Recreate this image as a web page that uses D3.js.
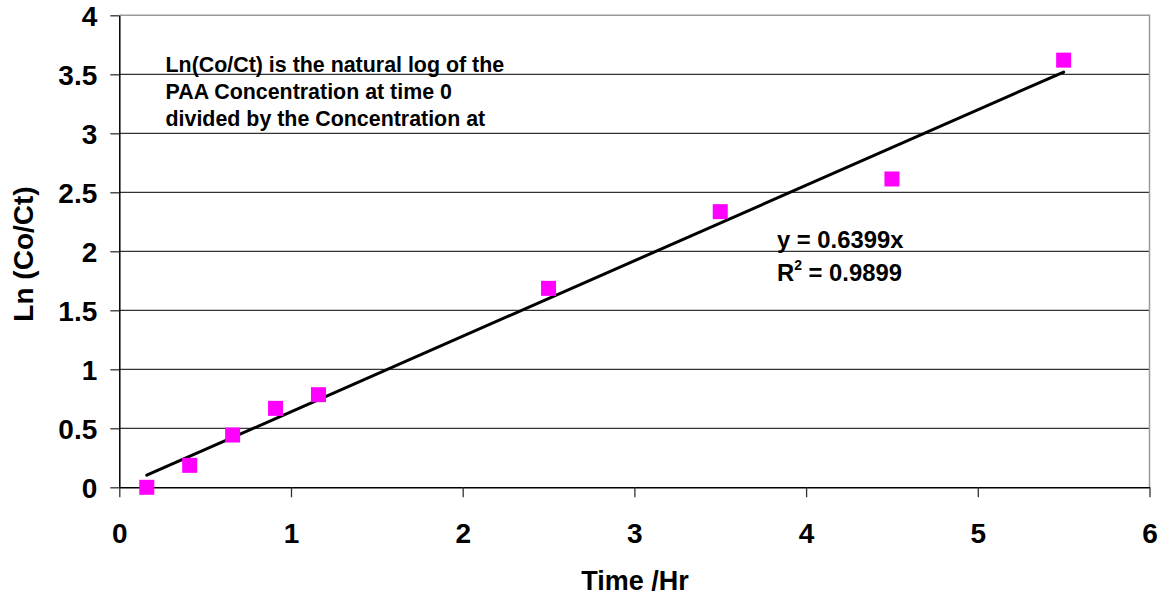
<!DOCTYPE html>
<html>
<head>
<meta charset="utf-8">
<script src="https://cdn.jsdelivr.net/npm/d3@7"></script>
<style>
  body { margin: 0; background: #fff; }
  svg text { font-family: "Liberation Sans", Arial, sans-serif; font-weight: bold; fill: #000; }
</style>
</head>
<body>
<div id="chart"></div>
<script>
// datos
const times = [0.16, 0.41, 0.66, 0.91, 1.16, 2.5, 3.5, 4.5, 5.5];
const lnRatio = [0, 0.186, 0.443, 0.669, 0.785, 1.686, 2.336, 2.613, 3.62];
const slope = 0.6399;
const rSquared = 0.9899;
const xTicks = [0, 1, 2, 3, 4, 5, 6];
const yTicks = [0, 0.5, 1, 1.5, 2, 2.5, 3, 3.5, 4];
const noteLines = [
  "Ln(Co/Ct) is the natural log of the",
  "PAA Concentration at time 0",
  "divided by the Concentration at"
];

const puntos = times.map((t, i) => ({ t: t, v: lnRatio[i] }));

const ancho = 1161, alto = 596;
const margen = { top: 15.3, right: 11.5, bottom: 108.7, left: 119.3 };

const svg = d3.select("#chart").append("svg")
  .attr("width", ancho)
  .attr("height", alto);

const x = d3.scaleLinear().domain([0, 6]).range([margen.left, ancho - margen.right]);
const y = d3.scaleLinear().domain([0, 4]).range([alto - margen.bottom, margen.top]);

// lineas de rejilla
svg.append("g").selectAll("line")
  .data(yTicks.filter(d => d > 0 && d < 4))
  .enter().append("line")
  .attr("x1", x(0)).attr("x2", x(6))
  .attr("y1", d => y(d)).attr("y2", d => y(d))
  .attr("stroke", "#000").attr("stroke-width", 1);

// borde superior y derecho en gris
svg.append("path")
  .attr("d", `M${x(0)},${y(4)}H${x(6)}V${y(0)}`)
  .attr("fill", "none")
  .attr("stroke", "#9a9a9a")
  .attr("stroke-width", 1.5);

// ejes
const ejeX = svg.append("g")
  .attr("transform", `translate(0,${y(0)})`)
  .call(d3.axisBottom(x).tickValues(xTicks).tickSize(10).tickSizeOuter(0).tickFormat(d => d));
ejeX.select(".domain").attr("stroke", "#000").attr("stroke-width", 1.5);
ejeX.selectAll(".tick line").attr("stroke", "#333").attr("stroke-width", 1.3);
ejeX.selectAll(".tick text")
  .attr("y", 56).attr("dy", null)
  .attr("font-size", 28).attr("font-family", null);

const ejeY = svg.append("g")
  .attr("transform", `translate(${x(0)},0)`)
  .call(d3.axisLeft(y).tickValues(yTicks).tickSize(9).tickSizeOuter(0).tickFormat(d => d));
ejeY.select(".domain").attr("stroke", "#000").attr("stroke-width", 1.5);
ejeY.selectAll(".tick line").attr("stroke", "#333").attr("stroke-width", 1.3);
ejeY.selectAll(".tick text")
  .attr("x", -22).attr("dy", "0.36em")
  .attr("font-size", 28).attr("font-family", null);

// linea de tendencia
const tMin = d3.min(times), tMax = d3.max(times);
svg.append("line")
  .attr("x1", x(tMin)).attr("y1", y(slope * tMin))
  .attr("x2", x(tMax)).attr("y2", y(slope * tMax))
  .attr("stroke", "#000")
  .attr("stroke-width", 3)
  .attr("stroke-linecap", "round");

// puntos
const lado = 15;
svg.selectAll("rect.punto")
  .data(puntos)
  .enter().append("rect")
  .attr("class", "punto")
  .attr("x", d => x(d.t) - lado / 2)
  .attr("y", d => y(d.v) - lado / 2)
  .attr("width", lado)
  .attr("height", lado)
  .attr("fill", "#ff00ff");

// nota
svg.append("g").selectAll("text")
  .data(noteLines)
  .enter().append("text")
  .attr("x", 165.5)
  .attr("y", (d, i) => 72 + i * 27.2)
  .attr("font-size", 21.4)
  .text(d => d);

// ecuacion
svg.append("text")
  .attr("x", 777).attr("y", 248)
  .attr("font-size", 23.8)
  .text(`y = ${slope}x`);
const r2 = svg.append("text")
  .attr("x", 777).attr("y", 281)
  .attr("font-size", 23.8);
r2.append("tspan").text("R");
r2.append("tspan").attr("font-size", 14).attr("dy", -11).text("2");
r2.append("tspan").attr("dy", 11).text(` = ${rSquared}`);

// titulos de ejes
svg.append("text")
  .attr("x", (x(0) + x(6)) / 2 + 0.5)
  .attr("y", 590)
  .attr("text-anchor", "middle")
  .attr("font-size", 27)
  .text("Time /Hr");

svg.append("text")
  .attr("transform", `translate(33,${254}) rotate(-90)`)
  .attr("text-anchor", "middle")
  .attr("font-size", 28)
  .text("Ln (Co/Ct)");
</script>
</body>
</html>
